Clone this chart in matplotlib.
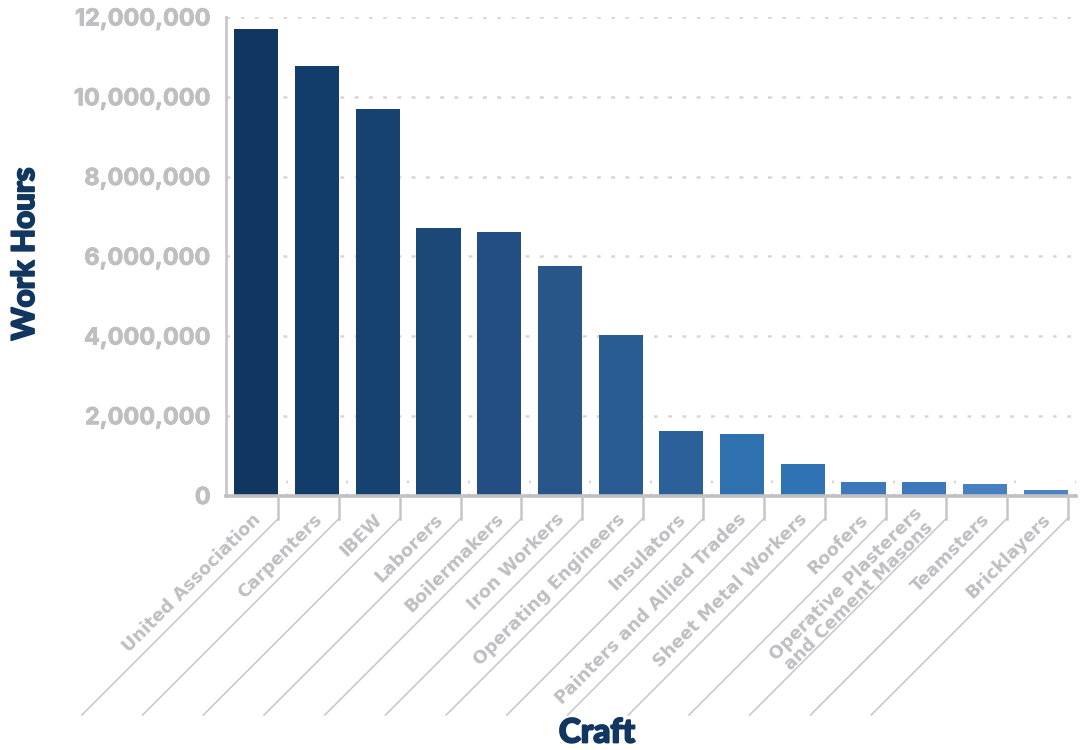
import matplotlib
matplotlib.use("Agg")
import matplotlib.pyplot as plt
from matplotlib.lines import Line2D
from matplotlib.ticker import FuncFormatter
import matplotlib.patheffects as pe

crafts = ["United Association", "Carpenters", "IBEW", "Laborers", "Boilermakers",
          "Iron Workers", "Operating Engineers", "Insulators", "Painters and Allied Trades",
          "Sheet Metal Workers", "Roofers", "Operative Plasterers\nand Cement Masons",
          "Teamsters", "Bricklayers"]
hours = [11700000, 10770000, 9690000, 6700000, 6600000, 5750000, 4020000,
         1630000, 1530000, 780000, 350000, 350000, 300000, 150000]
colors = ["#11365f", "#123c69", "#164272", "#1c4878", "#234e84", "#285689",
          "#2a5c94", "#2b6198", "#2f70af", "#2f73b5", "#3d79ba", "#3d79ba",
          "#4680c2", "#4a84c6"]
yticks = [0, 2000000, 4000000, 6000000, 8000000, 10000000, 12000000]

W, H = 1083, 750
fig = plt.figure(figsize=(W / 100, H / 100), dpi=100)
L, R, T, B = 226, 1076, 17, 495.5
ax = fig.add_axes([L / W, 1 - B / H, (R - L) / W, (B - T) / H])

x = list(range(len(crafts)))
ax.bar(x, hours, width=0.725, color=colors, zorder=3)
ax.set_xlim(-0.5, len(crafts) - 0.5)
ax.set_ylim(0, 12000000)

grid_col = "#d6d6d6"
for yt in yticks[1:]:
    ax.axhline(yt, color=grid_col, lw=1.8, ls=(0, (1.5, 4.2)), zorder=1)
ax.vlines([i + 0.5 for i in x], 0, 380000, color=grid_col, lw=1.5,
          linestyles=[(0, (1.2, 5))], zorder=1)

for s in ["top", "right"]:
    ax.spines[s].set_visible(False)
ax.spines["left"].set_color("#c8c8cb")
ax.spines["left"].set_linewidth(2)
ax.spines["bottom"].set_color("#c0c0c3")
ax.spines["bottom"].set_linewidth(2.6)
ax.spines["bottom"].set_zorder(4)

ax.set_yticks(yticks)
ax.yaxis.set_major_formatter(FuncFormatter(lambda v, p: f"{int(v):,}"))
ax.tick_params(axis="y", length=0, pad=11, labelsize=16.9, labelcolor="#bfbfc3")
for lab in ax.get_yticklabels():
    lab.set_fontfamily(["Inter", "DejaVu Sans"])
    lab.set_fontweight("bold")
    lab.set_path_effects([pe.withStroke(linewidth=0.6, foreground="#bfbfc3")])
ax.set_xticks(x)
ax.set_xticklabels([])
ax.tick_params(axis="x", length=0)

fig.canvas.draw()
tick_col = "#c6c6c9"
for i in x:
    px, py = ax.transData.transform((i + 0.3625, 0))
    y0 = py
    y1 = py - 23
    y2 = H - 715
    fig.add_artist(Line2D([px, px], [y0, y1], transform=None, color=tick_col, lw=1.8))
    fig.add_artist(Line2D([px, px - (y1 - y2)], [y1, y2], transform=None,
                          color=tick_col, lw=1.1))
    cx, cy = ax.transData.transform((i, 0))
    fig.text(cx + 2, cy - 21, crafts[i], transform=None, rotation=45,
             rotation_mode="anchor", ha="right", va="center", multialignment="center",
             fontsize=12.8, fontweight="bold", color="#bfbfc3",
             family=["DejaVu Sans"], linespacing=0.95)

heavy = [pe.withStroke(linewidth=1.3, foreground="#11365f")]
fig.text(25 / W, 1 - 254 / H, "Work Hours", rotation=90, ha="center", va="center",
         fontsize=22.5, fontweight="black", color="#11365f",
         family=["Lato", "DejaVu Sans"], path_effects=heavy)
fig.text(597 / W, 1 - 733 / H, "Craft", ha="center", va="center",
         fontsize=24, fontweight="black", color="#11365f",
         family=["Lato", "DejaVu Sans"], path_effects=heavy)

fig.savefig("out.png", dpi=100)
